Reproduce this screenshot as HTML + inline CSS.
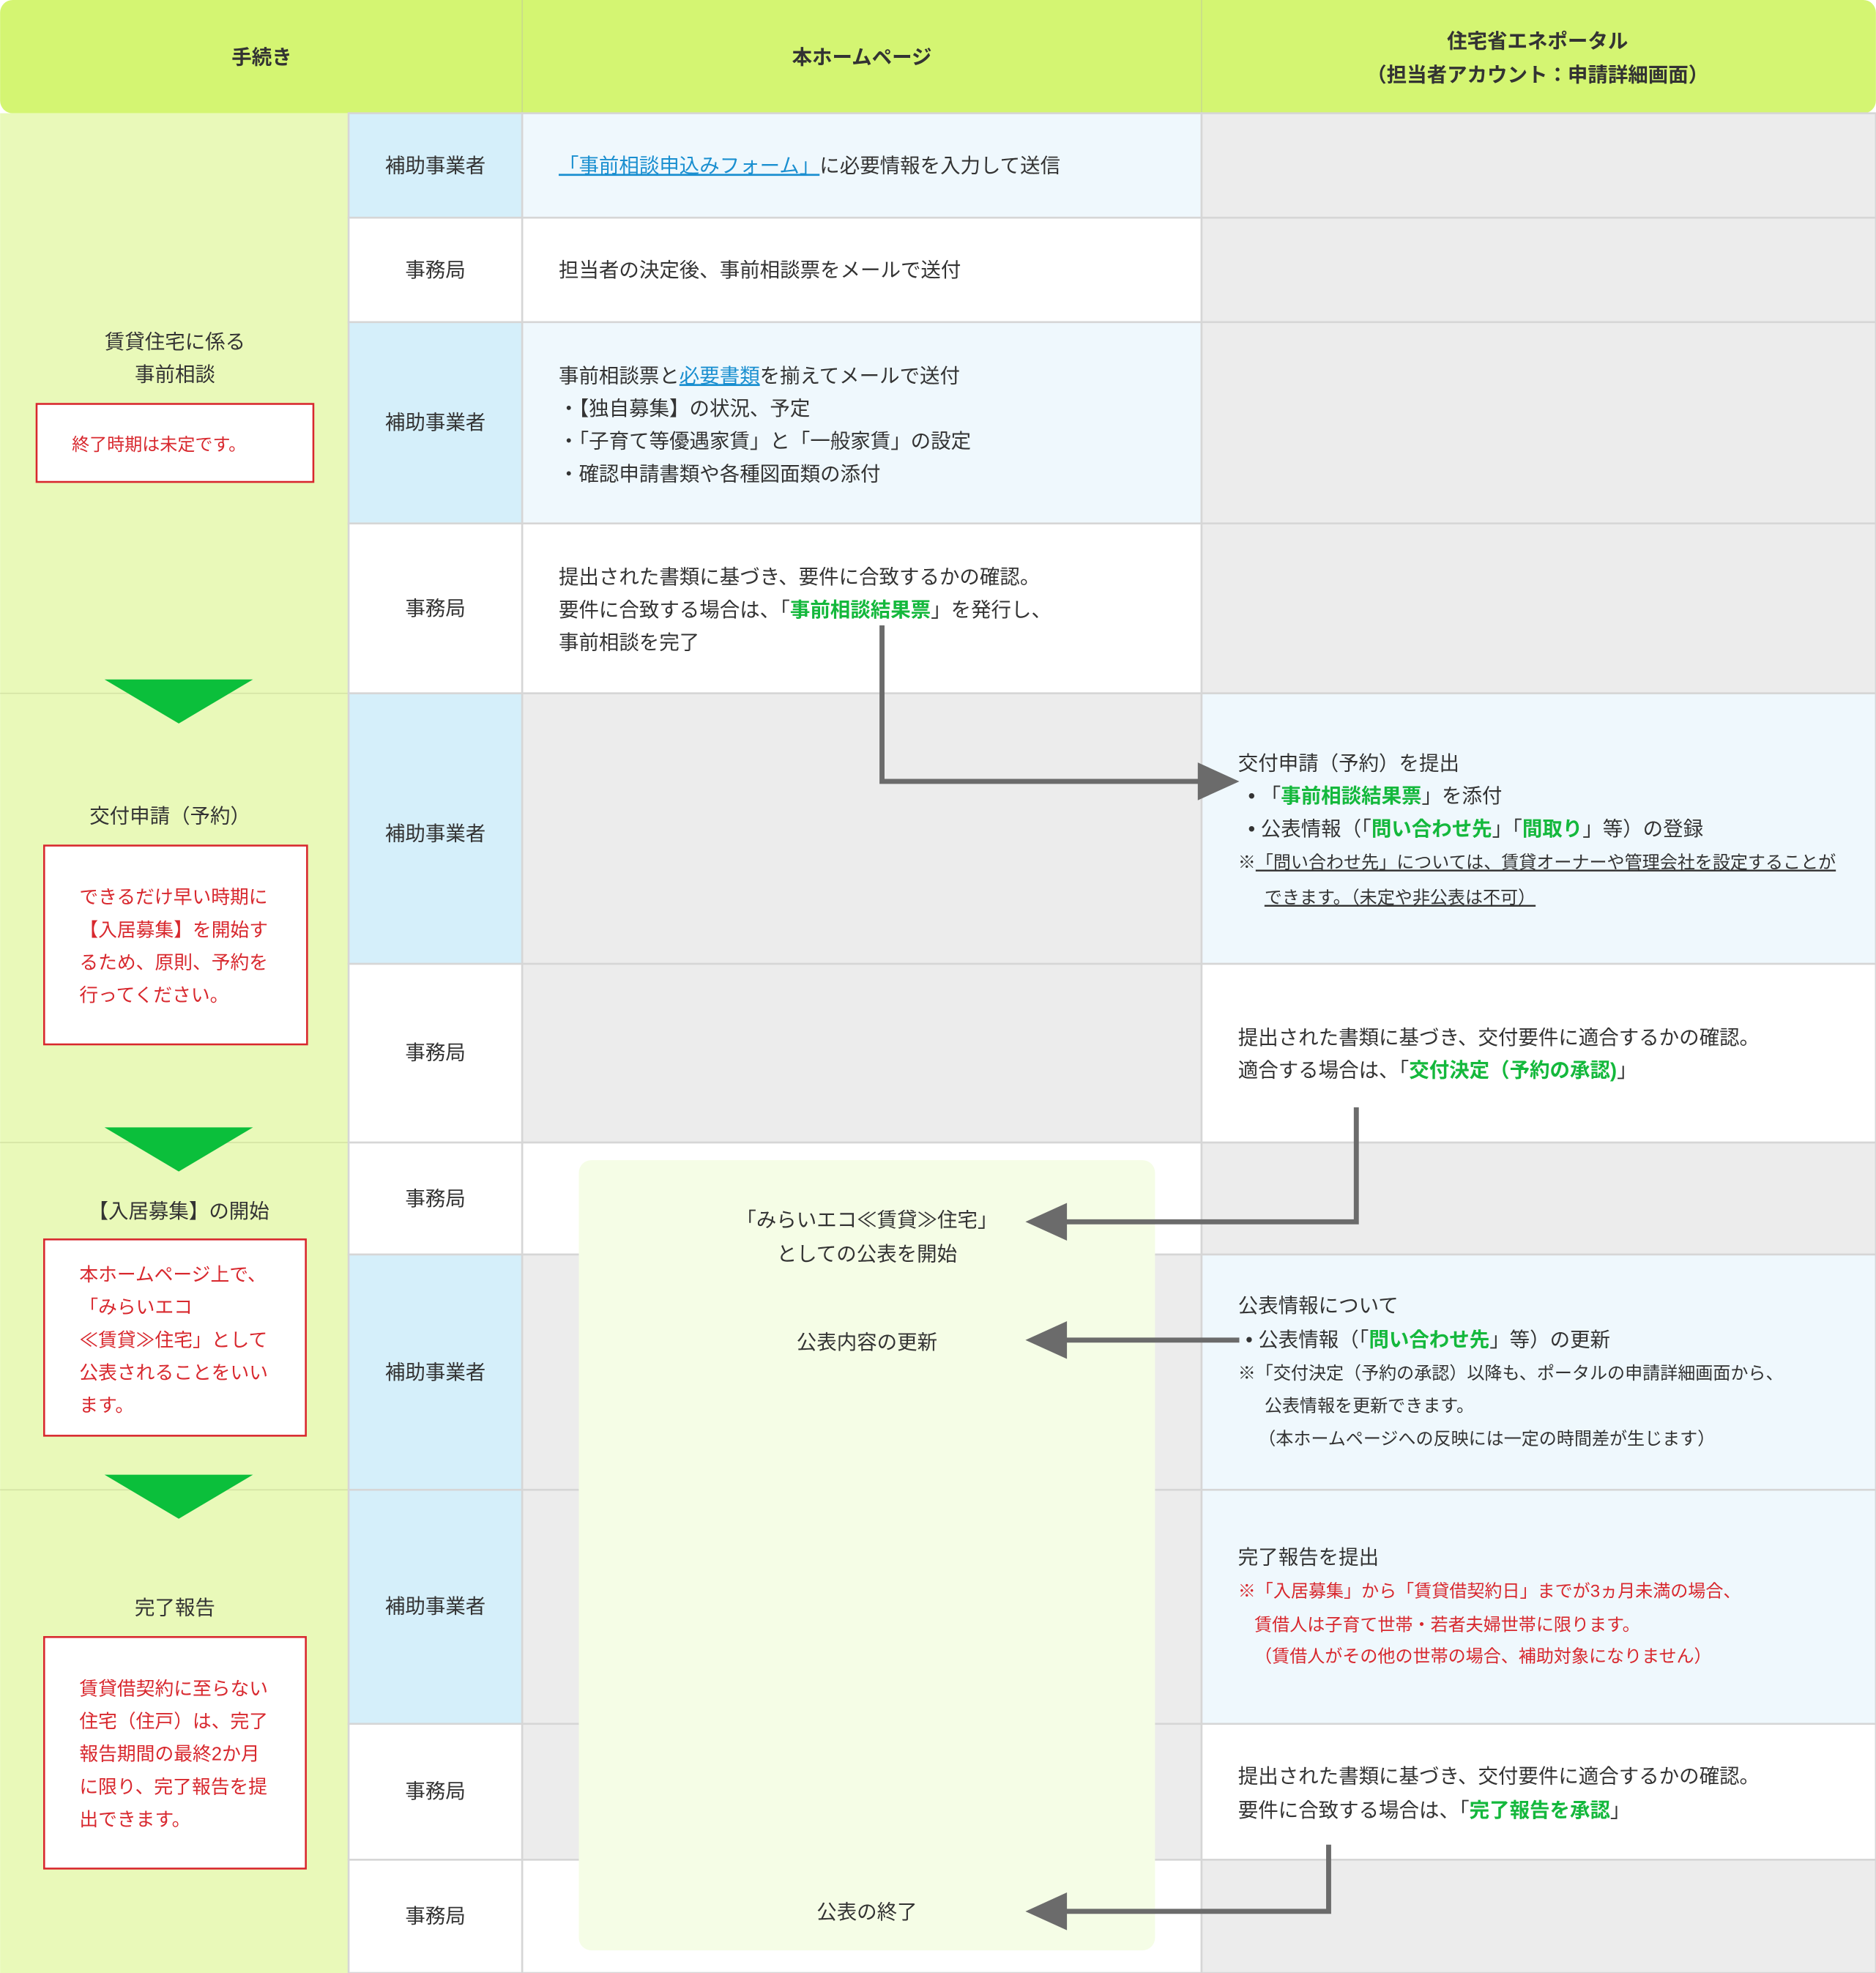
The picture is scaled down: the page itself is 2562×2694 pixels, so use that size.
<!DOCTYPE html>
<html><head><meta charset="utf-8"><style>
html,body{margin:0;padding:0;background:#fff}
svg{display:block}
text{font-family:"Liberation Sans","Noto Sans CJK JP",sans-serif;font-size:16px;fill:#333}
.b{font-weight:bold}
.c{text-anchor:middle}
.r{fill:#d8282e}
.g{fill:#14b83c;font-weight:bold}
.l{fill:#1a8fd0}
.s{font-size:14px}
.x{font-size:15px}
</style></head><body>
<svg width="2562" height="2694" viewBox="0 0 1491 1568" xmlns="http://www.w3.org/2000/svg">
<rect x="0" y="0" width="1491" height="1568" fill="#fff"/>
<rect x="0" y="0" width="1491" height="90" rx="10" fill="#d4f572"/>
<line x1="415" y1="0" x2="415" y2="90" stroke="#c8dc8a"/>
<line x1="955" y1="0" x2="955" y2="90" stroke="#c8dc8a"/>
<text x="208" y="51" class="b c">手続き</text>
<text x="685" y="51" class="b c">本ホームページ</text>
<text x="1222" y="38" class="b c">住宅省エネポータル</text>
<text x="1222" y="65" class="b c">（担当者アカウント：申請詳細画面）</text>
<rect x="0" y="90" width="277" height="1478" fill="#e9f9b9"/>
<line x1="0" y1="551" x2="277" y2="551" stroke="#d5e4a5"/>
<line x1="0" y1="908" x2="277" y2="908" stroke="#d5e4a5"/>
<line x1="0" y1="1184" x2="277" y2="1184" stroke="#d5e4a5"/>
<g stroke="#d6d6d6" stroke-width="1.5">
<rect x="277" y="90" width="138" height="83" fill="#d5effa"/>
<rect x="277" y="173" width="138" height="83" fill="#fff"/>
<rect x="277" y="256" width="138" height="160" fill="#d5effa"/>
<rect x="277" y="416" width="138" height="135" fill="#fff"/>
<rect x="277" y="551" width="138" height="215" fill="#d5effa"/>
<rect x="277" y="766" width="138" height="142" fill="#fff"/>
<rect x="277" y="908" width="138" height="89" fill="#fff"/>
<rect x="277" y="997" width="138" height="187" fill="#d5effa"/>
<rect x="277" y="1184" width="138" height="186" fill="#d5effa"/>
<rect x="277" y="1370" width="138" height="108" fill="#fff"/>
<rect x="277" y="1478" width="138" height="90" fill="#fff"/>
<rect x="415" y="90" width="540" height="83" fill="#eff8fd"/>
<rect x="415" y="173" width="540" height="83" fill="#fff"/>
<rect x="415" y="256" width="540" height="160" fill="#eff8fd"/>
<rect x="415" y="416" width="540" height="135" fill="#fff"/>
<rect x="415" y="551" width="540" height="215" fill="#ececec"/>
<rect x="415" y="766" width="540" height="142" fill="#ececec"/>
<rect x="415" y="908" width="540" height="89" fill="#fff"/>
<rect x="415" y="997" width="540" height="187" fill="#ececec"/>
<rect x="415" y="1184" width="540" height="186" fill="#ececec"/>
<rect x="415" y="1370" width="540" height="108" fill="#ececec"/>
<rect x="415" y="1478" width="540" height="90" fill="#fff"/>
<rect x="955" y="90" width="536" height="83" fill="#ececec"/>
<rect x="955" y="173" width="536" height="83" fill="#ececec"/>
<rect x="955" y="256" width="536" height="160" fill="#ececec"/>
<rect x="955" y="416" width="536" height="135" fill="#ececec"/>
<rect x="955" y="551" width="536" height="215" fill="#eff8fd"/>
<rect x="955" y="766" width="536" height="142" fill="#fff"/>
<rect x="955" y="908" width="536" height="89" fill="#ececec"/>
<rect x="955" y="997" width="536" height="187" fill="#eff8fd"/>
<rect x="955" y="1184" width="536" height="186" fill="#eff8fd"/>
<rect x="955" y="1370" width="536" height="108" fill="#fff"/>
<rect x="955" y="1478" width="536" height="90" fill="#ececec"/>
</g>
<rect x="460" y="922" width="458" height="628" rx="10" fill="#f5fde6"/>
<text x="139" y="277" class="c">賃貸住宅に係る</text>
<text x="139" y="303" class="c">事前相談</text>
<rect x="29" y="321" width="220" height="62" fill="#fff" stroke="#d8282e" stroke-width="1.5"/>
<text x="57" y="358" class="r s">終了時期は未定です。</text>
<polygon points="83,540 201,540 142,575" fill="#0bbf3b"/>
<text x="135" y="654" class="c">交付申請（予約）</text>
<rect x="35" y="672" width="209" height="158" fill="#fff" stroke="#d8282e" stroke-width="1.5"/>
<text x="63" y="718" class="r x">できるだけ早い時期に</text>
<text x="63" y="744" class="r x">【入居募集】を開始す</text>
<text x="63" y="770" class="r x">るため、原則、予約を</text>
<text x="63" y="796" class="r x">行ってください。</text>
<polygon points="83,896 201,896 142,931" fill="#0bbf3b"/>
<text x="142" y="968" class="c">【入居募集】の開始</text>
<rect x="35" y="985" width="208" height="156" fill="#fff" stroke="#d8282e" stroke-width="1.5"/>
<text x="63" y="1018" class="r x">本ホームページ上で、</text>
<text x="63" y="1044" class="r x">「みらいエコ</text>
<text x="63" y="1070" class="r x">≪賃貸≫住宅」として</text>
<text x="63" y="1096" class="r x">公表されることをいい</text>
<text x="63" y="1122" class="r x">ます。</text>
<polygon points="83,1172 201,1172 142,1207" fill="#0bbf3b"/>
<text x="139" y="1283" class="c">完了報告</text>
<rect x="35" y="1301" width="208" height="184" fill="#fff" stroke="#d8282e" stroke-width="1.5"/>
<text x="63" y="1347" class="r x">賃貸借契約に至らない</text>
<text x="63" y="1373" class="r x">住宅（住戸）は、完了</text>
<text x="63" y="1399" class="r x">報告期間の最終2か月</text>
<text x="63" y="1425" class="r x">に限り、完了報告を提</text>
<text x="63" y="1451" class="r x">出できます。</text>
<text x="346" y="137" class="c">補助事業者</text>
<text x="346" y="220" class="c">事務局</text>
<text x="346" y="341" class="c">補助事業者</text>
<text x="346" y="489" class="c">事務局</text>
<text x="346" y="668" class="c">補助事業者</text>
<text x="346" y="842" class="c">事務局</text>
<text x="346" y="958" class="c">事務局</text>
<text x="346" y="1096" class="c">補助事業者</text>
<text x="346" y="1282" class="c">補助事業者</text>
<text x="346" y="1429" class="c">事務局</text>
<text x="346" y="1528" class="c">事務局</text>
<text x="444" y="137"><tspan class="l" text-decoration="underline">「事前相談申込みフォーム」</tspan>に必要情報を入力して送信</text>
<text x="444" y="220">担当者の決定後、事前相談票をメールで送付</text>
<text x="444" y="304">事前相談票と<tspan class="l" text-decoration="underline">必要書類</tspan>を揃えてメールで送付</text>
<text x="444" y="330">・【独自募集】の状況、予定</text>
<text x="444" y="356">・「子育て等優遇家賃」と「一般家賃」の設定</text>
<text x="444" y="382">・確認申請書類や各種図面類の添付</text>
<text x="444" y="464">提出された書類に基づき、要件に合致するかの確認。</text>
<text x="444" y="490">要件に合致する場合は、「<tspan class="g">事前相談結果票</tspan>」を発行し、</text>
<text x="444" y="516">事前相談を完了</text>
<text x="689" y="975" class="c">「みらいエコ≪賃貸≫住宅」</text>
<text x="689" y="1002" class="c">としての公表を開始</text>
<text x="689" y="1072" class="c">公表内容の更新</text>
<text x="689" y="1525" class="c">公表の終了</text>
<text x="984" y="612">交付申請（予約）を提出</text>
<text x="992" y="638">•  「<tspan class="g">事前相談結果票</tspan>」を添付</text>
<text x="992" y="664">•  公表情報（「<tspan class="g">問い合わせ先</tspan>」「<tspan class="g">間取り</tspan>」等）の登録</text>
<text x="984" y="690" class="s">※<tspan text-decoration="underline">「問い合わせ先」については、賃貸オーナーや管理会社を設定することが</tspan></text>
<text x="1005" y="718" class="s" text-decoration="underline">できます。（未定や非公表は不可）</text>
<text x="984" y="830">提出された書類に基づき、交付要件に適合するかの確認。</text>
<text x="984" y="856">適合する場合は、「<tspan class="g">交付決定（予約の承認)</tspan>」</text>
<text x="984" y="1043">公表情報について</text>
<text x="990" y="1070">•  公表情報（「<tspan class="g">問い合わせ先</tspan>」等）の更新</text>
<text x="984" y="1096" class="s">※「交付決定（予約の承認）以降も、ポータルの申請詳細画面から、</text>
<text x="1005" y="1122" class="s">公表情報を更新できます。</text>
<text x="1000" y="1148" class="s">（本ホームページへの反映には一定の時間差が生じます）</text>
<text x="984" y="1243">完了報告を提出</text>
<text x="984" y="1269" class="r s">※「入居募集」から「賃貸借契約日」までが3ヵ月未満の場合、</text>
<text x="997" y="1296" class="r s">賃借人は子育て世帯・若者夫婦世帯に限ります。</text>
<text x="997" y="1321" class="r s">（賃借人がその他の世帯の場合、補助対象になりません）</text>
<text x="984" y="1417">提出された書類に基づき、交付要件に適合するかの確認。</text>
<text x="984" y="1444">要件に合致する場合は、「<tspan class="g">完了報告を承認</tspan>」</text>
<g stroke="#6b6b6b" stroke-width="4" fill="none">
<polyline points="701,497 701,621 955,621"/>
<polyline points="1078,880 1078,971 845,971"/>
<line x1="985" y1="1065" x2="845" y2="1065"/>
<polyline points="1056,1466 1056,1519 845,1519"/>
</g>
<g fill="#6b6b6b">
<polygon points="952,606 985,621 952,636"/>
<polygon points="848,956 815,971 848,986"/>
<polygon points="848,1050 815,1065 848,1080"/>
<polygon points="848,1504 815,1519 848,1534"/>
</g>
</svg>
</body></html>
